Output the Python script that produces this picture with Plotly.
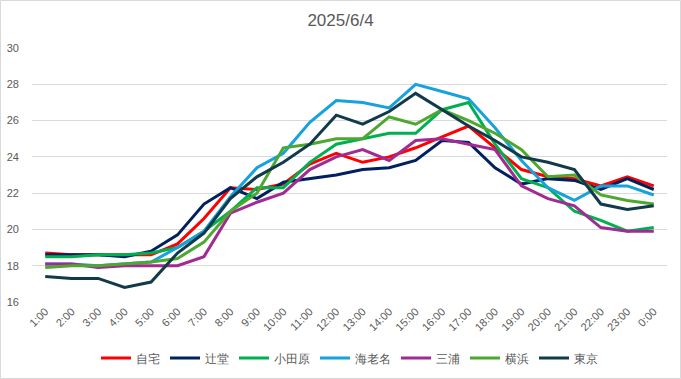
import plotly.graph_objects as go

hours = ["1:00","2:00","3:00","4:00","5:00","6:00","7:00","8:00","9:00","10:00","11:00","12:00",
         "13:00","14:00","15:00","16:00","17:00","18:00","19:00","20:00","21:00","22:00","23:00","0:00"]

jitaku   = [18.7,18.6,18.6,18.6,18.6,19.2,20.6,22.3,22.2,22.5,23.6,24.2,23.7,24.0,24.5,25.1,25.7,24.5,23.3,22.9,22.8,22.4,22.9,22.4]
tsujido  = [18.6,18.6,18.6,18.5,18.8,19.7,21.4,22.3,21.7,22.6,22.8,23.0,23.3,23.4,23.8,24.9,24.8,23.4,22.5,22.8,22.7,22.2,22.8,22.2]
odawara  = [18.5,18.5,18.6,18.6,18.7,19.0,19.9,21.0,22.3,22.3,23.7,24.7,25.0,25.3,25.3,26.6,27.0,24.7,22.8,22.3,21.0,20.5,19.9,20.1]
ebina    = [18.1,18.1,18.0,18.1,18.2,19.0,19.9,21.8,23.4,24.2,25.9,27.1,27.0,26.7,28.0,27.6,27.2,25.6,23.8,22.3,21.6,22.4,22.4,21.9]
miura    = [18.1,18.1,17.9,18.0,18.0,18.0,18.5,20.9,21.5,22.0,23.3,24.0,24.4,23.8,24.9,25.0,24.7,24.4,22.4,21.7,21.3,20.1,19.9,19.9]
yokohama = [17.9,18.0,18.0,18.1,18.2,18.4,19.3,21.0,22.0,24.5,24.7,25.0,25.0,26.2,25.8,26.6,26.0,25.3,24.4,22.9,23.0,21.9,21.6,21.4]
tokyo    = [17.4,17.3,17.3,16.8,17.1,18.7,19.8,21.7,22.9,23.7,24.7,26.3,25.8,26.5,27.5,26.6,25.7,24.9,24.0,23.7,23.3,21.4,21.1,21.3]

series_names = ["自宅","辻堂","小田原","海老名","三浦","横浜","東京"]
series_values = [jitaku, tsujido, odawara, ebina, miura, yokohama, tokyo]
colors = ["#FF0000","#002060","#00B050","#16A2DC","#A02B93","#4EA72E","#123A4A"]

y_ticks = [16,18,20,22,24,26,28,30]

fig = go.Figure()
for name, vals, col in zip(series_names, series_values, colors):
    fig.add_trace(go.Scatter(x=hours, y=vals, name=name, mode="lines",
                             line=dict(color=col, width=3)))

L, R, T, B = 32, 14, 48, 77
W, H = 681, 379
pw, ph = W - L - R, H - T - B

fig.update_layout(
    width=W, height=H,
    margin=dict(l=L, r=R, t=T, b=B, autoexpand=False),
    paper_bgcolor="white", plot_bgcolor="white",
    font=dict(family="Liberation Sans, Arial, sans-serif", color="#595959", size=11),
    title=dict(text="2025/6/4", x=0.5, xanchor="center", y=1 - 20/H, yanchor="middle",
               font=dict(size=17, color="#595959")),
    xaxis=dict(type="category", tickangle=-45, showgrid=False, showline=False, automargin=False,
               ticks="", tickfont=dict(size=11, color="#595959"), range=[-0.5, 23.5]),
    yaxis=dict(range=[16, 30], tickvals=y_ticks, showgrid=True, gridcolor="#D9D9D9",
               gridwidth=1, zeroline=False, showline=False, ticks="", automargin=False,
               ticklabelstandoff=12,
               tickfont=dict(size=11, color="#595959")),
    legend=dict(orientation="h", x=0.5, xanchor="center", y=-(358 - 302)/ph, yanchor="middle",
                font=dict(size=12, color="#595959"), itemwidth=30),
    shapes=[dict(type="rect", xref="paper", yref="paper",
                 x0=-(L - 0.5)/pw, x1=1 + (R - 0.5)/pw,
                 y0=-(B - 0.5)/ph, y1=1 + (T - 0.5)/ph,
                 line=dict(color="#D9D9D9", width=1), layer="below")],
    showlegend=True,
)

fig.write_html("out.html", config={"displayModeBar": False},
               post_script="document.body.style.margin='0';")
